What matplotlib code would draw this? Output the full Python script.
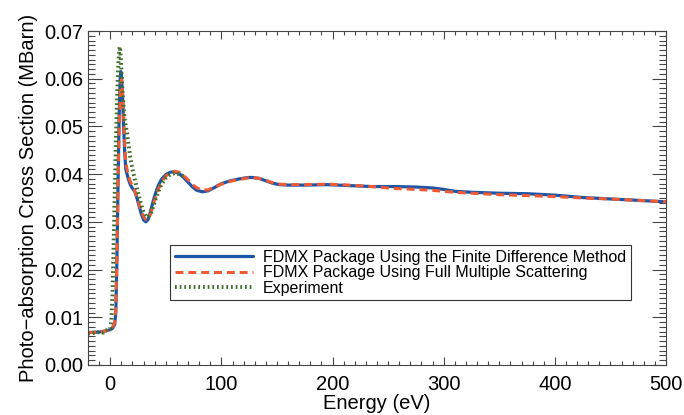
import matplotlib
matplotlib.use('Agg')
import matplotlib.pyplot as plt
from matplotlib.ticker import MultipleLocator

plt.rcParams['font.family'] = ['Liberation Sans', 'DejaVu Sans']

# FDMX, finite difference method
fdm_e = [-20, -10, -5, 0, 2, 4, 5, 6, 7, 8, 9, 9.5, 10, 11, 12, 13, 14, 16, 18, 20,
         22, 24, 26, 28, 30, 32, 34, 36, 38, 40, 43, 46, 50, 54, 58, 62, 66, 70, 74, 78,
         83, 88, 93, 100, 108, 116, 124, 128, 134, 140, 146, 152, 160, 175, 195, 215,
         235, 255, 275, 290, 300, 310, 325, 350, 375, 400, 425, 450, 475, 500]
fdm_s = [0.0068, 0.0069, 0.0071, 0.0074, 0.0077, 0.0085, 0.0110, 0.0220, 0.0380, 0.0520,
         0.0605, 0.0615, 0.0610, 0.0565, 0.0500, 0.0445, 0.0410, 0.0392, 0.0378, 0.0370,
         0.0364, 0.0350, 0.0333, 0.0316, 0.0304, 0.0300, 0.0305, 0.0320, 0.0338, 0.0355,
         0.0375, 0.0389, 0.0399, 0.0404, 0.0405, 0.0401, 0.0393, 0.0383, 0.0373, 0.0366,
         0.0363, 0.0365, 0.0371, 0.0380, 0.0386, 0.0390, 0.0393, 0.0393, 0.0391, 0.0386,
         0.0381, 0.0378, 0.0377, 0.0377, 0.0378, 0.0376, 0.0374, 0.0374, 0.0373, 0.0371,
         0.0368, 0.0364, 0.0362, 0.0360, 0.0359, 0.0356, 0.0351, 0.0348, 0.0345, 0.0342]

# FDMX, full multiple scattering
fms_e = [-20, -10, -5, 0, 2, 4, 5, 6, 7, 8, 9, 10, 10.5, 11, 12, 13, 14, 16, 18, 20,
         22, 24, 26, 28, 30, 32, 34, 36, 38, 40, 43, 46, 50, 54, 58, 62, 66, 70, 74, 78,
         83, 88, 93, 100, 108, 116, 124, 128, 134, 140, 146, 152, 160, 175, 195, 215,
         235, 255, 275, 290, 300, 310, 325, 350, 375, 400, 425, 450, 475, 500]
fms_s = [0.0068, 0.0069, 0.0071, 0.0074, 0.0078, 0.0090, 0.0120, 0.0230, 0.0380, 0.0500,
         0.0575, 0.0598, 0.0595, 0.0575, 0.0520, 0.0465, 0.0425, 0.0398, 0.0385, 0.0375,
         0.0365, 0.0352, 0.0337, 0.0322, 0.0311, 0.0305, 0.0306, 0.0315, 0.0330, 0.0347,
         0.0367, 0.0383, 0.0396, 0.0403, 0.0406, 0.0404, 0.0397, 0.0388, 0.0378, 0.0371,
         0.0367, 0.0367, 0.0372, 0.0379, 0.0385, 0.0389, 0.0392, 0.0393, 0.0391, 0.0387,
         0.0382, 0.0379, 0.0378, 0.0378, 0.0379, 0.0377, 0.0374, 0.0370, 0.0368, 0.0366,
         0.0364, 0.0362, 0.0360, 0.0357, 0.0355, 0.0353, 0.0350, 0.0348, 0.0345, 0.0342]

# experiment
exp_e = [-20, -15, -10, -6, -4, 0, 1, 2, 3, 4, 5, 6, 7, 8, 8.5, 9, 10, 11, 12, 13, 14,
         15, 16, 18, 20, 22, 24, 26, 28, 30, 32, 34, 36, 38, 40, 43, 46, 50, 54, 58, 62,
         66, 68]
exp_s = [0.0066, 0.0067, 0.0069, 0.0068, 0.0072, 0.0076, 0.0095, 0.0150, 0.0250, 0.0360,
         0.0460, 0.0550, 0.0620, 0.0660, 0.0667, 0.0660, 0.0620, 0.0575, 0.0540, 0.0515,
         0.0500, 0.0490, 0.0470, 0.0435, 0.0410, 0.0390, 0.0370, 0.0352, 0.0335, 0.0320,
         0.0312, 0.0310, 0.0315, 0.0327, 0.0342, 0.0362, 0.0378, 0.0392, 0.0399, 0.0402,
         0.0400, 0.0396, 0.0393]

fig = plt.figure(figsize=(6.84, 4.15), dpi=100)
ax = fig.add_axes([0.1287, 0.1205, 0.845, 0.8048])

ax.plot(fdm_e, fdm_s, color='#1d56a6', lw=2.3, solid_capstyle='round',
        label='FDMX Package Using the Finite Difference Method')
ax.plot(fms_e, fms_s, color='#ef5a36', lw=2.2, linestyle=(0, (2.6, 1.6)),
        label='FDMX Package Using Full Multiple Scattering')
ax.plot(exp_e, exp_s, color='#3f6f2c', lw=2.8, linestyle=(0, (0.45, 0.75)),
        label='Experiment')

ax.set_xlim(-20, 500)
ax.set_ylim(0, 0.07)
ax.xaxis.set_major_locator(MultipleLocator(100))
ax.xaxis.set_minor_locator(MultipleLocator(10))
ax.yaxis.set_major_locator(MultipleLocator(0.01))
ax.yaxis.set_minor_locator(MultipleLocator(0.001))
ax.yaxis.set_major_formatter(plt.FormatStrFormatter('%.2f'))
ax.tick_params(which='both', direction='in', top=True, right=True, colors='#444444',
               labelcolor='black', labelsize=14.5, width=0.8)
ax.tick_params(axis='y', which='major', length=10)
ax.tick_params(axis='y', which='minor', length=5)
ax.tick_params(axis='x', which='major', length=6)
ax.tick_params(axis='x', which='minor', length=3)
ax.tick_params(axis='x', pad=7)
for s in ax.spines.values():
    s.set_color('#444444')
    s.set_linewidth(0.8)

ax.set_xlabel('Energy (eV)', fontsize=14.5, labelpad=0)
ax.set_ylabel('Photo\u2212absorption Cross Section (MBarn)', fontsize=14.5, labelpad=4)

leg = ax.legend(loc='upper left', bbox_to_anchor=(0.142, 0.359), borderaxespad=0,
                fontsize=11.5, handlelength=4.9, handletextpad=0.6, labelspacing=0.02,
                borderpad=0.3, fancybox=False, framealpha=1)
leg.get_frame().set_edgecolor('#333333')
leg.get_frame().set_linewidth(0.8)

plt.savefig('out.png', dpi=100)
